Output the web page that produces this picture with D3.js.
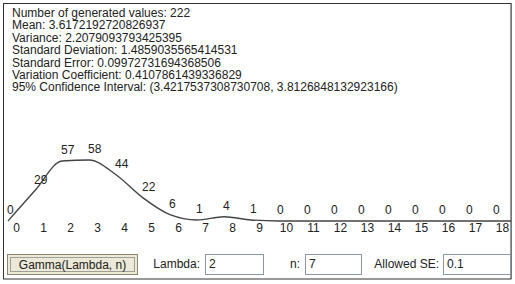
<!DOCTYPE html>
<html>
<head>
<meta charset="utf-8">
<script src="https://cdn.jsdelivr.net/npm/d3@7"></script>
<style>
  body { margin: 0; background: #fff; }
  svg text { font-family: Arial, "Liberation Sans", sans-serif; fill: #222; }
</style>
</head>
<body>
<div id="chart"></div>
<script>
// values
var statLines = [
    "Number of generated values: 222",
    "Mean: 3.6172192720826937",
    "Variance: 2.2079093793425395",
    "Standard Deviation: 1.4859035565414531",
    "Standard Error: 0.09972731694368506",
    "Variation Coefficient: 0.4107861439336829",
    "95% Confidence Interval: (3.4217537308730708, 3.8126848132923166)"
];
var bins = [0, 1, 2, 3, 4, 5, 6, 7, 8, 9, 10, 11, 12, 13, 14, 15, 16, 17, 18];
var counts = [0, 29, 57, 58, 44, 22, 6, 1, 4, 1, 0, 0, 0, 0, 0, 0, 0, 0, 0];
var buttonLabel = "Gamma(Lambda, n)";
var fieldLabels = ["Lambda:", "n:", "Allowed SE:"];
var fieldValues = ["2", "7", "0.1"];

var W = 515, H = 284;
var frame = { left: 3.5, top: 3.5, right: 511, bottom: 279 };

var svg = d3.select("#chart")
    .append("svg")
    .attr("width", W)
    .attr("height", H);

svg.append("rect")
    .attr("width", W).attr("height", H)
    .attr("fill", "#fff");

// panel border
svg.append("rect")
    .attr("x", frame.left).attr("y", frame.top)
    .attr("width", frame.right - frame.left)
    .attr("height", frame.bottom - frame.top)
    .attr("fill", "#fff")
    .attr("stroke", "#333")
    .attr("stroke-width", 1);
svg.append("line")
    .attr("x1", frame.right + 0.5).attr("x2", frame.right + 0.5)
    .attr("y1", frame.top).attr("y2", frame.bottom)
    .attr("stroke", "#777").attr("stroke-width", 1);

// statistics text
svg.append("g")
    .selectAll("text")
    .data(statLines)
    .enter()
    .append("text")
    .attr("x", 12)
    .attr("y", function (d, i) { return 17 + i * 12.4; })
    .style("font-size", "12px")
    .text(function (d) { return d; });

var x = d3.scaleLinear().domain([0, 18]).range([8, 494]);
var y = d3.scaleLinear().domain([0, 58]).range([221, 160]);

var pts = counts.map(function (c, i) { return [bins[i], c]; });
// the plotted line runs on to the panel edge
pts.push([x.invert(frame.right), counts[counts.length - 1]]);

svg.append("path")
    .datum(pts)
    .attr("fill", "none")
    .attr("stroke", "#444")
    .attr("stroke-width", 1.4)
    .attr("d", d3.line()
        .x(function (d) { return x(d[0]); })
        .y(function (d) { return y(d[1]); })
        .curve(d3.curveMonotoneX));

// count labels
svg.append("g")
    .selectAll("text")
    .data(counts)
    .enter()
    .append("text")
    .attr("x", function (d, i) { return x(bins[i]) - 1; })
    .attr("y", function (d) { return y(d) - 7; })
    .style("font-size", "12px")
    .text(function (d) { return d; });

// bin labels
var axis = svg.append("g")
    .attr("transform", "translate(8," + y(0) + ")")
    .call(d3.axisBottom(x).tickValues(bins).tickSize(0).tickPadding(2.5)
        .tickFormat(d3.format("d")));
axis.select(".domain").remove();
axis.selectAll("text")
    .style("font-size", "12px")
    .style("font-family", "Arial, 'Liberation Sans', sans-serif")
    .attr("fill", "#222");

// controls
var btn = svg.append("g").attr("transform", "translate(7,254)");
btn.append("rect")
    .attr("x", 0.5).attr("y", 0.5)
    .attr("width", 130).attr("height", 20)
    .attr("fill", "#ece9d8")
    .attr("stroke", "#8a8670");
btn.append("rect")
    .attr("x", 3.5).attr("y", 3.5)
    .attr("width", 124).attr("height", 14)
    .attr("fill", "none")
    .attr("stroke", "#555")
    .attr("stroke-dasharray", "1,1");
btn.append("text")
    .attr("x", 65.5).attr("y", 15)
    .attr("text-anchor", "middle")
    .style("font-size", "12px")
    .text(buttonLabel);

var fieldX = [{ label: 200, box: 205 }, { label: 300, box: 305 }, { label: 439, box: 443 }];
var boxW = [58, 56, 67];
fieldLabels.forEach(function (lab, i) {
    svg.append("text")
        .attr("x", fieldX[i].label).attr("y", 268)
        .attr("text-anchor", "end")
        .style("font-size", "12px")
        .text(lab);
    svg.append("rect")
        .attr("x", fieldX[i].box + 0.5).attr("y", 254.5)
        .attr("width", boxW[i]).attr("height", 20)
        .attr("fill", "#fff")
        .attr("stroke", "#8c96a0");
    svg.append("text")
        .attr("x", fieldX[i].box + 4).attr("y", 268)
        .style("font-size", "12px")
        .text(fieldValues[i]);
});
</script>
</body>
</html>
